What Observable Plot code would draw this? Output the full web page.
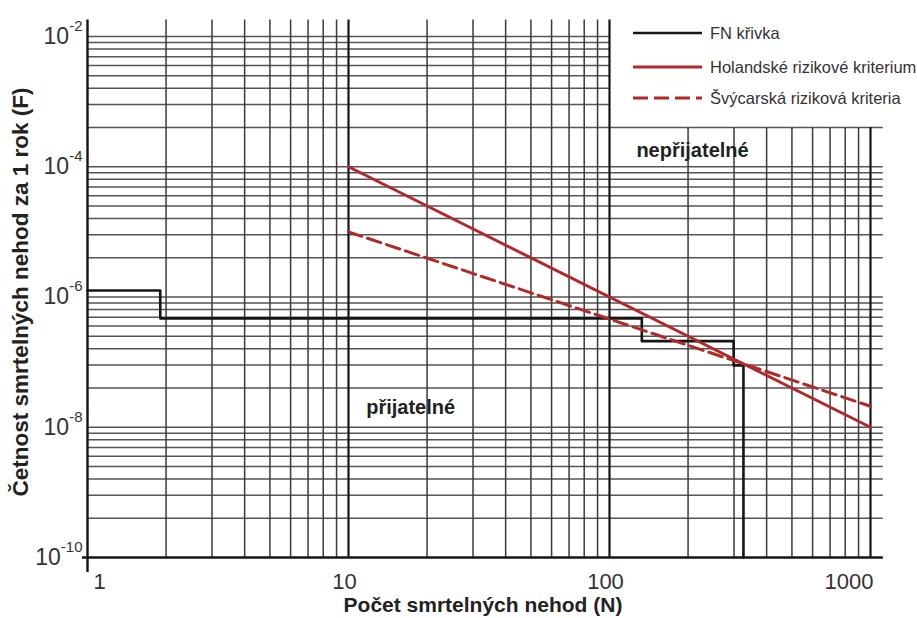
<!DOCTYPE html>
<html><head><meta charset="utf-8">
<script src="https://cdn.jsdelivr.net/npm/d3@7"></script>
<script src="https://cdn.jsdelivr.net/npm/@observablehq/plot@0.6"></script>
<style>
body{margin:0;background:#fff;font-family:"Liberation Sans",Arial,sans-serif;}
#wrap{position:relative;width:917px;height:618px;overflow:hidden;background:#fff;}
</style></head><body><div id="wrap"></div>
<script>
// ---- data ----
// FN curve (step-after points)
const fnN = [1, 1.9, 133, 299, 326];
const fnF = [1.26e-6, 4.7e-7, 2.1e-7, 8.9e-8, 1e-10];
// Dutch risk criterion
const dutchN = [10, 1000];
const dutchF = [1e-4, 1e-8];
// Swiss risk criterion
const swissN = [10, 1000];
const swissF = [1e-5, 2.1e-8];
// ticks
const xTickValues = [1, 10, 100, 1000];
const xTickLabels = ["1", "10", "100", "1000"];
const yTickValues = [1e-10, 1e-8, 1e-6, 1e-4, 1e-2];
const yTickExponents = ["-10", "-8", "-6", "-4", "-2"];
// grid of the log paper
const xGridValues = [2,3,4,5,6,7,8,9,10,20,30,40,50,60,70,80,90,100,200,300,400,500,600,700,800,900,1000];
const xGridHeavy = [10, 100, 1000];
const yGridMultipliers = [1,4,9,16,25,36,49,64,81];
const yGridCycles = [1e-8, 1e-6, 1e-4];
const yGridExtra = [4e-10, 9e-10, 1.6e-9, 2.5e-9, 3.6e-9, 4.9e-9, 6.4e-9, 8.1e-9, 1e-2];
// region annotations
const regionLabels = ["nepřijatelné", "přijatelné"];
const regionN = [208, 17.3];
const regionF = [1.8e-4, 2e-8];
// legend
const legendLabels = ["FN křivka", "Holandské rizikové kriterium", "Švýcarská riziková kriteria"];

// ---- derived tables ----
const fn = fnN.map((n, i) => ({n, f: fnF[i]}));
const dutch = dutchN.map((n, i) => ({n, f: dutchF[i]}));
const swiss = swissN.map((n, i) => ({n, f: swissF[i]}));
const yGrid = yGridExtra.concat(yGridCycles.flatMap(c => yGridMultipliers.map(m => c * m)));
const yTicks = yTickValues.map((v, i) => ({v, e: yTickExponents[i]}));
const xTicks = xTickValues.map((v, i) => ({v, t: xTickLabels[i]}));
const regions = regionLabels.map((t, i) => ({t, n: regionN[i], f: regionF[i]}));

const gridTopF = 1.8e-2, legendCutF = 4e-4, legendCutN = 100, gridRightN = 1120;
const axisBottomF = 5.9e-11, axisLeftN = 0.957;
const RED = "#b02a2a", INK = "#151515", HGRID = "#555", VGRID = "#3a3a3a";

const svg = Plot.plot({
  width: 917, height: 618,
  marginLeft: 87, marginRight: 47, marginTop: 36, marginBottom: 61,
  style: {fontFamily: "'Liberation Sans', Arial, sans-serif", background: "#fff", overflow: "visible"},
  x: {type: "log", domain: [1, 1000], axis: null},
  y: {type: "log", domain: [1e-10, 1e-2], axis: null},
  marks: [
    // horizontal grid
    Plot.ruleY(yGrid, {y: d => d, x1: 1, x2: d => d > legendCutF * 1.2 ? legendCutN : gridRightN,
      stroke: HGRID, strokeWidth: 1.5}),
    // vertical grid
    Plot.ruleX(xGridValues, {x: d => d, y1: 1e-10, y2: d => d > legendCutN ? legendCutF : gridTopF,
      stroke: d => xGridHeavy.includes(d) ? INK : VGRID,
      strokeWidth: d => xGridHeavy.includes(d) ? 2.2 : 1.5}),
    // axes lines
    Plot.ruleX([1], {x: d => d, y1: axisBottomF, y2: gridTopF, stroke: INK, strokeWidth: 2.4}),
    Plot.ruleY([1e-10], {y: d => d, x1: axisLeftN, x2: gridRightN, stroke: INK, strokeWidth: 2.4}),
    // curves
    Plot.line(fn, {x: "n", y: "f", curve: "step-after", stroke: INK, strokeWidth: 2.6}),
    Plot.line(swiss, {x: "n", y: "f", stroke: RED, strokeWidth: 3, strokeDasharray: "14,6"}),
    Plot.line(dutch, {x: "n", y: "f", stroke: RED, strokeWidth: 3}),
    // region labels
    Plot.text(regions, {x: "n", y: "f", text: "t", fontSize: 20, fontWeight: "bold", fill: "#222"}),
    // y tick labels (10^exp, exponent set as superscript below)
    Plot.text(yTicks, {y: "v", text: d => "10^" + d.e, frameAnchor: "left", textAnchor: "end",
      dx: -5, fontSize: 23, fill: "#333"}),
    // x tick labels
    Plot.text(xTicks.slice(0, 1), {x: "v", text: "t", frameAnchor: "bottom", lineAnchor: "middle",
      textAnchor: "start", dx: 6, dy: 24, fontSize: 22, fill: "#333"}),
    Plot.text(xTicks.slice(1, -1), {x: "v", text: "t", frameAnchor: "bottom", lineAnchor: "middle",
      textAnchor: "middle", dx: -4, dy: 24, fontSize: 22, fill: "#333"}),
    Plot.text(xTicks.slice(-1), {x: "v", text: "t", frameAnchor: "bottom", lineAnchor: "middle",
      textAnchor: "end", dx: 3, dy: 24, fontSize: 22, fill: "#333"}),
    // axis titles
    Plot.text(["Počet smrtelných nehod (N)"], {text: d => d, frameAnchor: "bottom", lineAnchor: "middle",
      textAnchor: "middle", dx: 4, dy: 48, fontSize: 21, fontWeight: "bold", fill: "#222"}),
    Plot.text(["Četnost smrtelných nehod za 1 rok (F)"], {text: d => d, frameAnchor: "left", rotate: -90,
      textAnchor: "middle", lineAnchor: "middle", dx: -67, dy: -5, fontSize: 22.5, fontWeight: "bold", fill: "#222"})
  ]
});

// superscript exponents on the y tick labels
d3.select(svg).selectAll("text").each(function () {
  const t = d3.select(this);
  const s = t.text();
  if (!s.includes("^")) return;
  const [b, e] = s.split("^");
  t.text(null);
  t.append("tspan").text(b);
  t.append("tspan").attr("dy", -13).attr("font-size", 15).text(e);
});

// legend (top right)
const lg = d3.select(svg).append("g")
  .attr("font-family", "'Liberation Sans', Arial, sans-serif").attr("text-anchor", "start");
const legendStyles = [
  {stroke: INK, w: 2.6, dash: null},
  {stroke: RED, w: 3, dash: null},
  {stroke: RED, w: 3, dash: "15,6"}
];
const legendY = [33, 67, 98];
legendLabels.forEach((label, i) => {
  const s = legendStyles[i];
  lg.append("line").attr("x1", 633).attr("x2", 702).attr("y1", legendY[i]).attr("y2", legendY[i])
    .attr("stroke", s.stroke).attr("stroke-width", s.w).attr("stroke-dasharray", s.dash);
  lg.append("text").attr("x", 710).attr("y", legendY[i]).attr("dy", "0.35em")
    .attr("text-anchor", "start").attr("font-size", 16.5).attr("fill", "#333").text(label);
});

document.getElementById("wrap").appendChild(svg);
</script>
</body></html>
